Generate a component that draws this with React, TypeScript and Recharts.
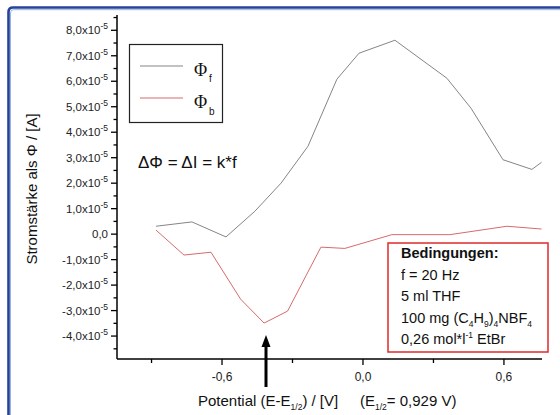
import React from 'react';
import { LineChart, Line, XAxis, YAxis } from 'recharts';

// Forward scan (Φf)
const potentialF = [-0.881, -0.728, -0.583, -0.46, -0.349, -0.234, -0.111, -0.017, 0.136, 0.357, 0.46, 0.596, 0.719, 0.76];
const currentF = [0.31e-5, 0.48e-5, -0.11e-5, 0.9e-5, 2.0e-5, 3.45e-5, 6.08e-5, 7.1e-5, 7.61e-5, 6.12e-5, 4.94e-5, 2.92e-5, 2.54e-5, 2.82e-5];

// Backward scan (Φb)
const potentialB = [-0.881, -0.762, -0.647, -0.521, -0.421, -0.321, -0.179, -0.077, 0.123, 0.37, 0.613, 0.76];
const currentB = [0.16e-5, -0.82e-5, -0.71e-5, -2.55e-5, -3.49e-5, -3.02e-5, -0.51e-5, -0.56e-5, -0.02e-5, -0.02e-5, 0.31e-5, 0.2e-5];

const xMajorTicks = [-0.6, 0, 0.6];
const xMajorLabels = ['-0,6', '0,0', '0,6'];
const xMinorTicks = [-0.9, -0.3, 0.3];

const yMajorTicks = [-4e-5, -3e-5, -2e-5, -1e-5, 0, 1e-5, 2e-5, 3e-5, 4e-5, 5e-5, 6e-5, 7e-5, 8e-5];
const yMajorLabels = ['-4,0', '-3,0', '-2,0', '-1,0', '0,0', '1,0', '2,0', '3,0', '4,0', '5,0', '6,0', '7,0', '8,0'];
const yMinorTicks = [-4.5e-5, -3.5e-5, -2.5e-5, -1.5e-5, -0.5e-5, 0.5e-5, 1.5e-5, 2.5e-5, 3.5e-5, 4.5e-5, 5.5e-5, 6.5e-5, 7.5e-5, 8.5e-5];

const seriesF = potentialF.map((x, i) => ({ x, y: currentF[i] }));
const seriesB = potentialB.map((x, i) => ({ x, y: currentB[i] }));

const FONT = '"Liberation Sans", Arial, sans-serif';
const GRAY = '#858585';
const RED = '#d86a6a';

const findIdx = (arr: number[], v: number) => arr.findIndex((t) => Math.abs(t - v) < 1e-9);

const XTick = (props: any) => {
  const { x, y, payload } = props;
  const mi = findIdx(xMajorTicks, payload.value);
  if (mi >= 0) {
    return (
      <g>
        <line x1={x} y1={y} x2={x} y2={y + 6} stroke="#000" strokeWidth={1.3} />
        <text x={x} y={y + 22} textAnchor="middle" fontFamily={FONT} fontSize={12} fill="#222">
          {xMajorLabels[mi]}
        </text>
      </g>
    );
  }
  return <line x1={x} y1={y} x2={x} y2={y + 4} stroke="#000" strokeWidth={1.3} />;
};

const YTick = (props: any) => {
  const { x, y, payload } = props;
  const mi = findIdx(yMajorTicks, payload.value);
  if (mi >= 0) {
    const lab = yMajorLabels[mi];
    return (
      <g>
        <line x1={x - 6} y1={y} x2={x} y2={y} stroke="#000" strokeWidth={1.3} />
        <text x={x - 9} y={y + 4} textAnchor="end" fontFamily={FONT} fontSize={11.5} fill="#222">
          {lab === '0,0' ? (
            lab
          ) : (
            <>
              <tspan>{lab + 'x10'}</tspan>
              <tspan dy={-5} fontSize={8.5}>-5</tspan>
            </>
          )}
        </text>
      </g>
    );
  }
  return <line x1={x - 3.5} y1={y} x2={x} y2={y} stroke="#000" strokeWidth={1.3} />;
};

export default function App() {
  return (
    <div style={{ position: 'absolute', left: 0, top: 0, width: 560, height: 415, background: '#fff' }}>
      <LineChart
        width={560}
        height={415}
        margin={{ top: 15, right: 18, bottom: 26, left: 57 }}
      >
        <XAxis
          type="number"
          dataKey="x"
          domain={[-1.047, 0.762]}
          ticks={[...xMinorTicks.slice(0, 1), ...xMajorTicks.slice(0, 1), ...xMinorTicks.slice(1, 2), ...xMajorTicks.slice(1, 2), ...xMinorTicks.slice(2), ...xMajorTicks.slice(2)]}
          interval={0}
          allowDataOverflow
          height={30}
          tickSize={0}
          tickMargin={0}
          tick={<XTick />}
          axisLine={{ stroke: '#000', strokeWidth: 1.5 }}
        />
        <YAxis
          type="number"
          dataKey="y"
          domain={[-4.9e-5, 8.6e-5]}
          ticks={[...yMinorTicks, ...yMajorTicks].sort((a, b) => a - b)}
          interval={0}
          allowDataOverflow
          width={60}
          tickSize={0}
          tickMargin={0}
          tick={<YTick />}
          axisLine={{ stroke: '#000', strokeWidth: 1.5 }}
        />
        <Line data={seriesF} dataKey="y" type="linear" stroke={GRAY} strokeWidth={1} dot={false} isAnimationActive={false} />
        <Line data={seriesB} dataKey="y" type="linear" stroke={RED} strokeWidth={1} dot={false} isAnimationActive={false} />
      </LineChart>
      <svg
        width={560}
        height={415}
        style={{ position: 'absolute', left: 0, top: 0, pointerEvents: 'none' }}
      >
        {/* blue frame (top + left) */}
        <path d="M 8.5 415 L 8.5 12 Q 8.5 7.5 13 7.5 L 560 7.5" fill="none" stroke="#24449c" strokeWidth={2.6} />
        <path d="M 10.5 415 L 10.5 13 Q 10.5 9.7 13.5 9.7 L 560 9.7" fill="none" stroke="#9fb1de" strokeWidth={1} />

        {/* legend box */}
        <rect x={129.5} y={44.5} width={93} height={78} fill="#fff" stroke="#222" strokeWidth={1.2} />
        <line x1={140} y1={66} x2={183} y2={66} stroke={GRAY} strokeWidth={1} />
        <line x1={140} y1={98} x2={183} y2={98} stroke={RED} strokeWidth={1} />
        <text x={194} y={76} fontFamily='"Liberation Serif", "Times New Roman", serif' fontSize={18} fill="#111">Φ</text>
        <text x={209} y={82} fontFamily={FONT} fontSize={10} fill="#111">f</text>
        <text x={194} y={108} fontFamily='"Liberation Serif", "Times New Roman", serif' fontSize={18} fill="#111">Φ</text>
        <text x={209} y={115} fontFamily={FONT} fontSize={10} fill="#111">b</text>

        {/* formula */}
        <text x={138} y={168} fontFamily={FONT} fontSize={17} fill="#111">ΔΦ = ΔI = k*f</text>

        {/* conditions box */}
        <rect x={388} y={243} width={160} height={109} fill="#fff" stroke="#e02a2a" strokeWidth={1.5} />
        <g fontFamily={FONT} fontSize={14.5} fill="#111">
          <text x={401} y={258} fontWeight="bold">Bedingungen:</text>
          <text x={401} y={280}>f = 20 Hz</text>
          <text x={401} y={301}>5 ml THF</text>
          <text x={401} y={323}>
            <tspan>100 mg (C</tspan>
            <tspan fontSize={8.5} dy={4}>4</tspan>
            <tspan dy={-4}>H</tspan>
            <tspan fontSize={8.5} dy={4}>9</tspan>
            <tspan dy={-4}>)</tspan>
            <tspan fontSize={8.5} dy={4}>4</tspan>
            <tspan dy={-4}>NBF</tspan>
            <tspan fontSize={8.5} dy={4}>4</tspan>
          </text>
          <text x={401} y={344}>
            <tspan>0,26 mol*l</tspan>
            <tspan fontSize={8.5} dy={-6}>-1</tspan>
            <tspan dy={6}> EtBr</tspan>
          </text>
        </g>

        {/* arrow */}
        <line x1={266} y1={344} x2={266} y2={387} stroke="#000" strokeWidth={3} />
        <polygon points="266,335 261.5,347 270.5,347" fill="#000" />

        {/* axis titles */}
        <text
          x={31}
          y={189}
          transform="rotate(-90 31 189)"
          textAnchor="middle"
          dominantBaseline="central"
          fontFamily={FONT}
          fontSize={15}
          fill="#111"
        >
          Stromstärke als Φ / [A]
        </text>
        <g fontFamily={FONT} fontSize={15} fill="#111">
          <text x={198} y={406}>
            <tspan>Potential (E-E</tspan>
            <tspan fontSize={8.5} dy={4}>1/2</tspan>
            <tspan dy={-4}>) / [V]</tspan>
          </text>
          <text x={360} y={406}>
            <tspan>(E</tspan>
            <tspan fontSize={8.5} dy={4}>1/2</tspan>
            <tspan dy={-4}>= 0,929 V)</tspan>
          </text>
        </g>
      </svg>
    </div>
  );
}
